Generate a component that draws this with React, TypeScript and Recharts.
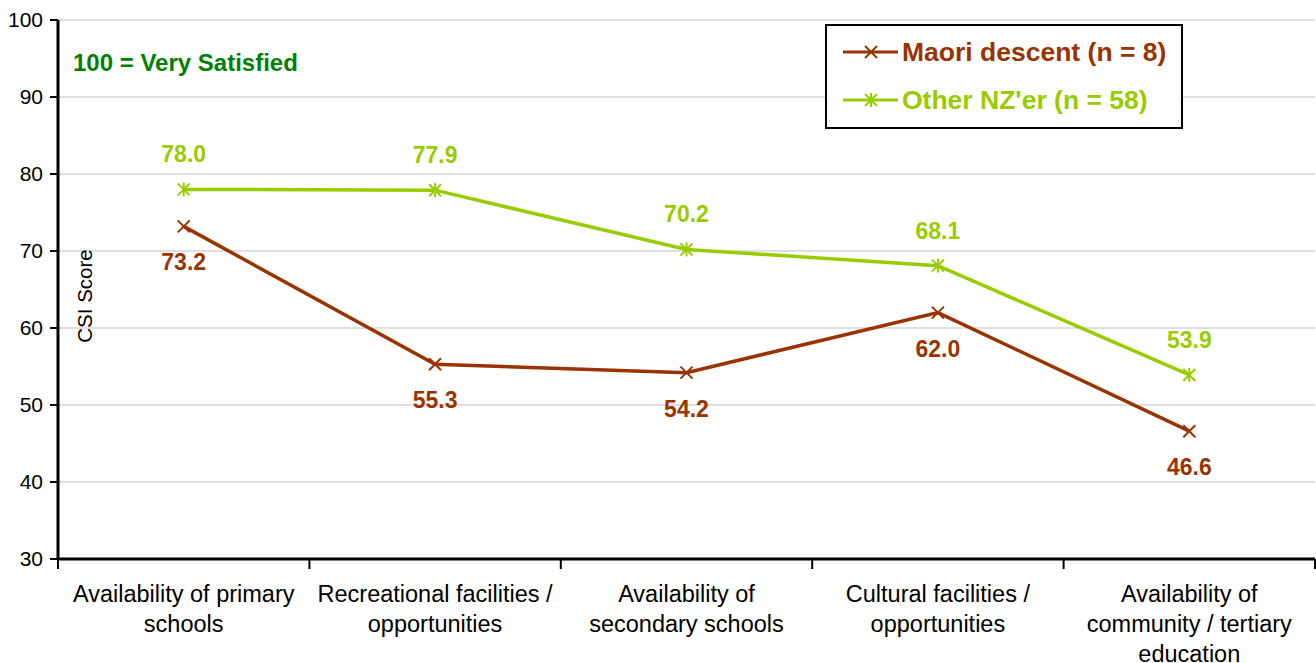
import { LineChart, Line, XAxis, YAxis, CartesianGrid, Legend, LabelList } from 'recharts';

const CATEGORIES = [
  'Availability of primary\nschools',
  'Recreational facilities /\nopportunities',
  'Availability of\nsecondary schools',
  'Cultural facilities /\nopportunities',
  'Availability of\ncommunity / tertiary\neducation',
];
const MAORI = [73.2, 55.3, 54.2, 62.0, 46.6];
const OTHER = [78.0, 77.9, 70.2, 68.1, 53.9];
const Y_TICKS = [30, 40, 50, 60, 70, 80, 90, 100];

const BROWN = '#993300';
const LIME = '#99cc00';
const FONT = 'Arial, "Liberation Sans", sans-serif';

const data = CATEGORIES.map((name, i) => ({ name, maori: MAORI[i], other: OTHER[i] }));

const CrossDot = (props: any) => {
  const { cx, cy } = props;
  const s = 6;
  return (
    <g>
      <line x1={cx - s} y1={cy - s} x2={cx + s} y2={cy + s} stroke={BROWN} strokeWidth={2} />
      <line x1={cx - s} y1={cy + s} x2={cx + s} y2={cy - s} stroke={BROWN} strokeWidth={2} />
    </g>
  );
};

const StarDot = (props: any) => {
  const { cx, cy } = props;
  const s = 6;
  return (
    <g>
      <line x1={cx - s} y1={cy - s} x2={cx + s} y2={cy + s} stroke={LIME} strokeWidth={2} />
      <line x1={cx - s} y1={cy + s} x2={cx + s} y2={cy - s} stroke={LIME} strokeWidth={2} />
      <line x1={cx} y1={cy - s - 1} x2={cx} y2={cy + s + 1} stroke={LIME} strokeWidth={2} />
    </g>
  );
};

const XTick = (props: any) => {
  const { x, y, payload, index } = props;
  const lines = String(payload.value).split('\n');
  const half = 125.7;
  const axisY = 559;
  return (
    <g>
      <line x1={x - half} y1={axisY} x2={x - half} y2={axisY + 10} stroke="#000" strokeWidth={2} />
      {index === CATEGORIES.length - 1 && (
        <line x1={x + half} y1={axisY} x2={x + half} y2={axisY + 10} stroke="#000" strokeWidth={2} />
      )}
      {lines.map((l, i) => (
        <text key={i} x={x} y={axisY + 35 + i * 30} textAnchor="middle" dominantBaseline="central" fontSize={23.5} fontFamily={FONT} fill="#000">
          {l}
        </text>
      ))}
    </g>
  );
};

const valueLabel = (color: string, dy: number) => (props: any) => {
  const { x, y, value } = props;
  return (
    <text x={x} y={y + dy} textAnchor="middle" dominantBaseline="central" fontSize={23} fontWeight="bold" fontFamily={FONT} fill={color}>
      {Number(value).toFixed(1)}
    </text>
  );
};

const LegendBox = () => (
  <div style={{ position: 'relative', border: '2px solid #000', background: '#fff', width: 358, height: 105, boxSizing: 'border-box', fontFamily: FONT, fontWeight: 'bold', fontSize: 26.5 }}>
    {[
      { label: 'Maori descent (n = 8)', color: BROWN, star: false },
      { label: "Other NZ'er (n = 58)", color: LIME, star: true },
    ].map((it, i) => (
      <div key={i} style={{ position: 'absolute', left: 14, top: 10 + i * 48, display: 'flex', alignItems: 'center', height: 32 }}>
        <svg width={58} height={20} style={{ flex: 'none' }}>
          <line x1={2} y1={10} x2={57} y2={10} stroke={it.color} strokeWidth={3} />
          <line x1={24} y1={4} x2={36} y2={16} stroke={it.color} strokeWidth={2} />
          <line x1={24} y1={16} x2={36} y2={4} stroke={it.color} strokeWidth={2} />
          {it.star && <line x1={30} y1={3} x2={30} y2={17} stroke={it.color} strokeWidth={2} />}
        </svg>
        <span style={{ color: it.color, marginLeft: 3, whiteSpace: 'nowrap' }}>{it.label}</span>
      </div>
    ))}
  </div>
);

export default function App() {
  return (
    <div style={{ position: 'absolute', left: 0, top: 0, background: '#fff' }}>
      <LineChart width={1316} height={663} data={data} margin={{ top: 20, right: 1, bottom: 0, left: 0 }}>
        <CartesianGrid horizontal vertical={false} stroke="#d4d4d4" strokeWidth={1.5} />
        <XAxis
          dataKey="name"
          scale="band"
          height={104}
          interval={0}
          tickLine={false}
          axisLine={{ stroke: '#000', strokeWidth: 3 }}
          tick={<XTick />}
        />
        <XAxis xAxisId="top" orientation="top" dataKey="name" scale="band" height={0} tick={false} tickLine={false} axisLine={{ stroke: '#000', strokeWidth: 3 }} />
        <YAxis
          width={58}
          domain={[30, 100]}
          ticks={Y_TICKS}
          interval={0}
          axisLine={{ stroke: '#000', strokeWidth: 3 }}
          tickLine={{ stroke: '#000', strokeWidth: 2 }}
          tickSize={8}
          tickMargin={7}
          tick={{ fontSize: 21, fill: '#000', fontFamily: FONT }}
          label={{
            content: () => (
              <g>
                <text x={84} y={296} transform="rotate(-90 84 296)" textAnchor="middle" dominantBaseline="central" fontSize={20.5} fontFamily={FONT} fill="#000">
                  CSI Score
                </text>
                <text x={73} y={62} dominantBaseline="central" fontSize={24} fontWeight="bold" fontFamily={FONT} fill="#008000">
                  100 = Very Satisfied
                </text>
              </g>
            ),
          }}
        />
        <YAxis yAxisId="right" orientation="right" width={0} domain={[30, 100]} tick={false} tickLine={false} axisLine={{ stroke: '#000', strokeWidth: 3 }} />
        <Legend
          layout="vertical"
          verticalAlign="middle"
          align="center"
          wrapperStyle={{ top: 24, left: 825, width: 358, height: 105 }}
          content={<LegendBox />}
        />
        <Line dataKey="maori" name="Maori descent (n = 8)" stroke={BROWN} strokeWidth={3.5} dot={<CrossDot />} isAnimationActive={false}>
          <LabelList dataKey="maori" content={valueLabel(BROWN, 36)} />
        </Line>
        <Line dataKey="other" name="Other NZ'er (n = 58)" stroke={LIME} strokeWidth={3.5} dot={<StarDot />} isAnimationActive={false}>
          <LabelList dataKey="other" content={valueLabel(LIME, -35)} />
        </Line>
      </LineChart>
    </div>
  );
}
